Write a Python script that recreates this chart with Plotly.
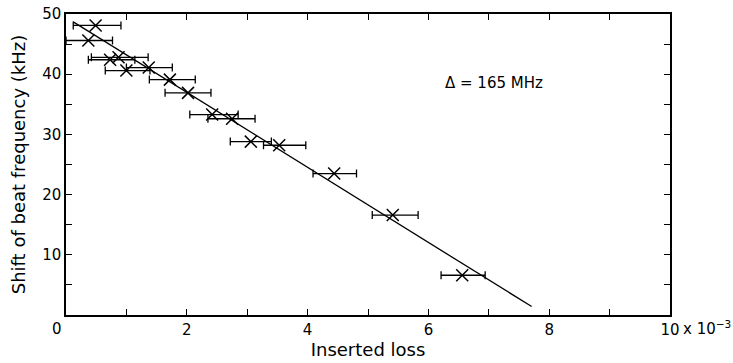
import plotly.graph_objects as go

# Data (x in units of 1e-3)
loss = [0.49, 0.37, 0.73, 0.87, 1.00, 1.37, 1.72, 2.02, 2.42, 2.75, 3.06, 3.53, 4.44, 5.41, 6.56]
shift = [48.1, 45.6, 42.4, 42.8, 40.6, 41.1, 39.1, 36.9, 33.3, 32.6, 28.8, 28.2, 23.5, 16.6, 6.6]
err_lo = [0.37, 0.37, 0.36, 0.45, 0.35, 0.37, 0.34, 0.38, 0.37, 0.40, 0.34, 0.26, 0.35, 0.34, 0.35]
err_hi = [0.42, 0.40, 0.41, 0.49, 0.39, 0.39, 0.42, 0.38, 0.43, 0.38, 0.34, 0.44, 0.37, 0.42, 0.38]

fit_x = [0.12, 7.71]
fit_y = [48.7, 1.4]

x_ticks = [2, 4, 6, 8, 10]
x_labels = ["2", "4", "6", "8", "10"]
y_ticks = [10, 20, 30, 40, 50]
y_labels = ["10", "20", "30", "40", "50"]

FONT = "DejaVu Sans"

fig = go.Figure()
fig.add_trace(go.Scatter(
    x=fit_x, y=fit_y, mode="lines",
    line=dict(color="black", width=1.3), hoverinfo="skip", showlegend=False))
fig.add_trace(go.Scatter(
    x=loss, y=shift, mode="markers",
    marker=dict(symbol="x-thin", size=12, line=dict(color="black", width=1.5), color="black"),
    error_x=dict(type="data", symmetric=False, array=err_hi, arrayminus=err_lo,
                 color="black", thickness=1.3, width=4),
    showlegend=False))

axis_common = dict(
    showline=True, linecolor="black", linewidth=1.5, mirror="ticks",
    ticks="inside", ticklen=6, tickwidth=1.2, tickcolor="black",
    showgrid=False, zeroline=False, automargin=False,
    tickfont=dict(family=FONT, size=15, color="black"),
)

fig.update_xaxes(range=[0, 10], tickmode="array", tickvals=x_ticks, ticktext=x_labels,
                 minor=dict(dtick=1, tick0=0, ticks="inside", ticklen=6, tickwidth=1.2, tickcolor="black", showgrid=False),
                 title=dict(text="Inserted loss", font=dict(family=FONT, size=18, color="black"), standoff=5),
                 **axis_common)
fig.update_yaxes(range=[0, 50], tickmode="array", tickvals=y_ticks, ticktext=y_labels,
                 minor=dict(dtick=5, tick0=0, ticks="inside", ticklen=6, tickwidth=1.2, tickcolor="black", showgrid=False),
                 title=dict(text="Shift of beat frequency (kHz)", font=dict(family=FONT, size=18, color="black"), standoff=12),
                 **axis_common)

fig.add_annotation(x=0, y=0, xref="x", yref="y", text="0",
                   showarrow=False, xanchor="center", yanchor="top", xshift=-9, yshift=-3,
                   font=dict(family=FONT, size=15, color="black"))
fig.add_annotation(x=10, y=0, xref="x", yref="y", text="x 10<sup>−3</sup>",
                   showarrow=False, xanchor="left", yanchor="top", xshift=11, yshift=-1,
                   font=dict(family=FONT, size=15, color="black"))
fig.add_annotation(x=6.24, y=38.6, xref="x", yref="y", text="Δ = 165 MHz",
                   showarrow=False, xanchor="left", yanchor="middle",
                   font=dict(family=FONT, size=15, color="black"))

fig.update_layout(
    width=733, height=363,
    margin=dict(l=66, r=63, t=14, b=48),
    paper_bgcolor="white", plot_bgcolor="white",
    font=dict(family=FONT, color="black"),
)

fig.write_html("out.html", config={"displayModeBar": False},
               post_script="document.body.style.margin='0';document.body.style.overflow='hidden';")
